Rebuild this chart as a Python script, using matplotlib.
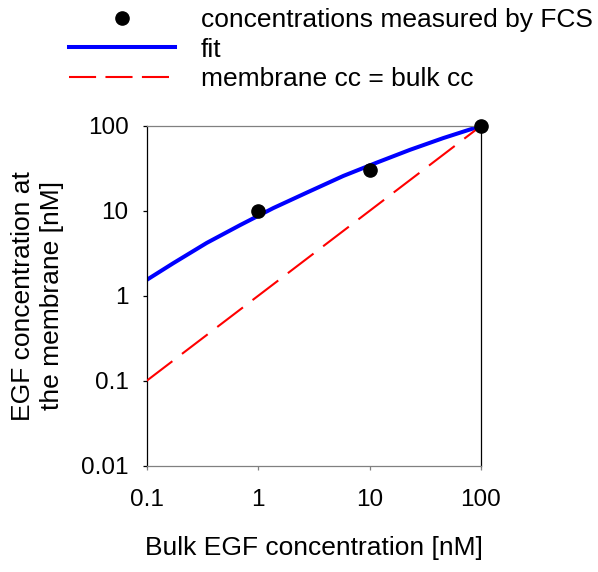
import matplotlib

matplotlib.use("Agg")
import matplotlib.pyplot as plt
from matplotlib.lines import Line2D

plt.rcParams["font.family"] = ["Liberation Sans", "DejaVu Sans"]

# FCS measurements
bulk_measured = [1, 10, 100]
membrane_measured = [10, 30, 100]

# fitted curve, sampled along bulk concentration
bulk_fit = [0.1, 0.173, 0.346, 0.689, 1.37, 2.73, 5.82, 11.6, 23.1, 45.9, 100]
membrane_fit = [1.54, 2.42, 4.2, 6.8, 10.8, 16.4, 25.8, 37.0, 52.4, 72.0, 100]

# identity reference: membrane cc = bulk cc
bulk_ref = [0.1, 100]
membrane_ref = [0.1, 100]

x_ticks = [0.1, 1, 10, 100]
x_tick_labels = ["0.1", "1", "10", "100"]
y_ticks = [0.01, 0.1, 1, 10, 100]
y_tick_labels = ["0.01", "0.1", "1", "10", "100"]

FS = 19
TICK_FS = 17.5

fig = plt.figure(figsize=(5.98, 5.72), dpi=100)
ax = fig.add_axes([0.2453, 0.1858, 0.559, 0.594])

ax.plot(bulk_fit, membrane_fit, color="#0000ff", lw=2.9, zorder=2,
        solid_capstyle="butt", solid_joinstyle="round")
ax.plot(bulk_ref, membrane_ref, color="#ff0000", lw=1.5, dashes=(15.5, 5.8), zorder=3)
ax.plot(bulk_measured, membrane_measured, "o", color="black", ms=9.5, zorder=4, clip_on=False)

ax.set_xscale("log")
ax.set_yscale("log")
ax.set_xlim(0.1, 100)
ax.set_ylim(0.01, 100)
ax.set_xticks(x_ticks, x_tick_labels)
ax.set_yticks(y_ticks, y_tick_labels)
ax.minorticks_off()
ax.tick_params(axis="both", direction="out", length=3, width=0.9, labelsize=TICK_FS)
ax.tick_params(axis="x", color="#808080", pad=14)
ax.tick_params(axis="y", color="black", pad=10)

for side in ["top", "bottom"]:
    ax.spines[side].set_color("#808080")
for side in ["left", "right"]:
    ax.spines[side].set_color("black")
for sp in ax.spines.values():
    sp.set_linewidth(0.9)

ax.set_xlabel("Bulk EGF concentration [nM]", fontsize=FS, labelpad=18)
ax.set_ylabel("EGF concentration at\nthe membrane [nM]", fontsize=FS, labelpad=12, linespacing=1.3)

handles = [
    Line2D([], [], marker="o", ls="none", color="black", ms=9.5),
    Line2D([], [], color="#0000ff", lw=2.9),
    Line2D([], [], color="#ff0000", lw=1.5, dashes=(13, 4.5)),
]
labels = ["concentrations measured by FCS", "fit", "membrane cc = bulk cc"]
fig.legend(handles, labels, loc="upper left", bbox_to_anchor=(0.098, 1.004),
           frameon=False, fontsize=FS, handlelength=4.0, handletextpad=1.0,
           labelspacing=0.2, borderaxespad=0)

fig.savefig("out.png", dpi=100)
